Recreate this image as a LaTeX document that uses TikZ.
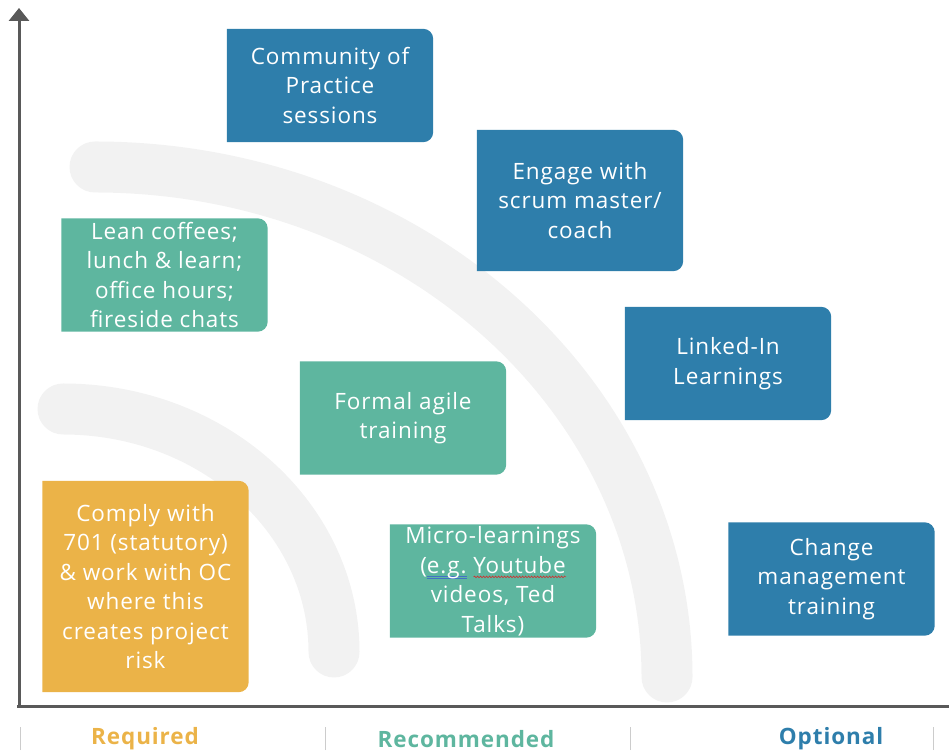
\documentclass[tikz,border=0pt]{standalone}
\usepackage{fontspec}
\setmainfont[LetterSpace=4]{Open Sans}
\usetikzlibrary{arrows.meta,backgrounds,decorations.pathmorphing}

\definecolor{reqorange}{HTML}{EBB348}
\definecolor{recteal}{HTML}{5EB69F}
\definecolor{optblue}{HTML}{2E7EAB}
\definecolor{bandgray}{HTML}{F2F2F2}
\definecolor{axisgray}{HTML}{595959}
\definecolor{spellblue}{HTML}{4472C4}
\definecolor{spellred}{HTML}{D03030}

% spell-check marks under words
\newcommand\spellok[1]{\setbox0=\hbox{#1}\leavevmode
  \rlap{\color{spellblue}\rule[-3.5pt]{\wd0}{0.8pt}}%
  \rlap{\color{spellblue}\rule[-5.8pt]{\wd0}{0.8pt}}\box0\relax}
\newcommand\spellno[1]{\setbox0=\hbox{#1}\leavevmode
  \rlap{\raisebox{-5pt}{\tikz\draw[spellred, line width=0.6pt, decorate,
    decoration={snake, amplitude=0.8pt, segment length=3pt}] (0pt,0pt) -- (\the\wd0,0pt);}}\box0\relax}

\begin{document}
\begin{tikzpicture}[x=1pt,y=1pt,
    box/.style={text=white, align=center, minimum width=206pt, minimum height=113pt,
        inner sep=0pt, font=\fontsize{22.5}{29.5}\selectfont},
    band/.style={draw=bandgray, line width=51pt, line cap=round},
    axis/.style={draw=axisgray, line width=3pt},
    tick/.style={draw=black!20, line width=0.8pt},
    level/.style={font=\bfseries\fontsize{22.5}{26}\selectfont}]
\useasboundingbox (0,0) rectangle (949,754);

% activities
\node[box] (cop) at (330,668.5) {Community of\\Practice\\sessions};
\node[box, minimum height=141pt] (engage) at (580,553.5) {Engage with\\scrum master/\\coach};
\node[box] (lean) at (164.5,479) {Lean coffees;\\lunch \& learn;\\office hours;\\fireside chats};
\node[box] (linked) at (728,390.5) {Linked-In\\Learnings};
\node[box] (formal) at (403,336) {Formal agile\\training};
\node[box, minimum height=211pt] (comply) at (145.5,167.5)
    {Comply with\\701 (statutory)\\\& work with OC\\where this\\creates project\\risk};
\node[box] (micro) at (493,173) {Micro-learnings\\(\spellok{e.g.} \spellno{Youtube}\\videos, Ted\\Talks)};
\node[box] (change) at (831.5,175) {Change\\management\\training};

% bands and box fills
\begin{scope}[on background layer]
  \draw[band] (95,587) arc[start angle=90, end angle=0, x radius=572, y radius=510];
  \draw[band] (63,345) arc[start angle=90, end angle=0, x radius=271, y radius=243];
  \foreach \n/\c in {cop/optblue, engage/optblue, linked/optblue, change/optblue,
                     lean/recteal, formal/recteal, micro/recteal, comply/reqorange}
    \fill[\c] (\n.west) -- (\n.north west) -- (\n.north) [rounded corners=10pt]
      -- (\n.north east) -- (\n.south east) -- (\n.south) [sharp corners]
      -- (\n.south west) -- cycle;
\end{scope}

% axes
\coordinate (origin) at (19,47);
\coordinate (ytop) at (19,746);
\coordinate (xend) at (962,47);
\draw[axis, -{Triangle[width=20pt,length=13pt]}] (origin) -- (ytop);
\draw[axis, -{Triangle[width=20pt,length=13pt]}] (17,47) -- (xend);

% levels
\foreach \x in {20,325,630,933}
  \draw[tick] (\x,4) -- (\x,27);
\node[level, text=reqorange] (required) at (145,15) {Required};
\node[level, text=recteal] (recommended) at (466,15) {Recommended};
\node[level, text=optblue] (optional) at (831,15) {Optional};
\end{tikzpicture}
\end{document}
